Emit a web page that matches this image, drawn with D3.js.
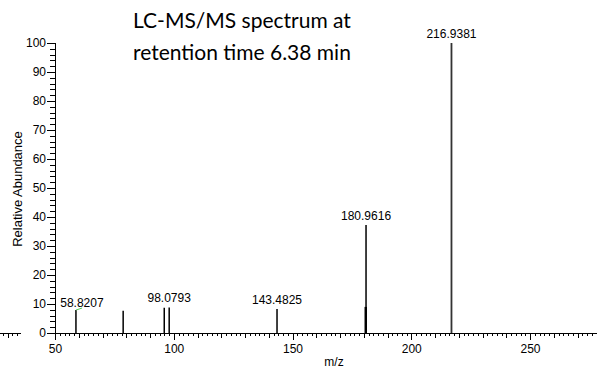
<!DOCTYPE html>
<html>
<head>
<meta charset="utf-8">
<script src="https://cdn.jsdelivr.net/npm/d3@7"></script>
<style>
  body { margin: 0; background: #fff; }
  svg { display: block; }
  .axis text { font-family: "Liberation Sans", Arial, sans-serif; font-size: 12px; fill: #000; }
  .axis path, .axis line { stroke: #000; stroke-width: 1; shape-rendering: crispEdges; }
</style>
</head>
<body>
<svg id="chart"></svg>
<script>
var width = 597, height = 369

// peaks
var peakMz    = [58.8207, 78.7, 96.0, 98.0793, 143.4825, 180.85, 180.9616, 216.9381]
var peakInt   = [7.9, 7.7, 8.7, 8.8, 8.3, 9.0, 37.2, 100]
var peakLabel = ["58.8207", "", "", "98.0793", "143.4825", "", "180.9616", "216.9381"]
var yTicks = [0, 10, 20, 30, 40, 50, 60, 70, 80, 90, 100]
var xTicks = [50, 100, 150, 200, 250]
var titleLines = ["LC-MS/MS spectrum at", "retention time 6.38 min"]

var svg = d3.select("#chart")
    .attr("width", width)
    .attr("height", height)

var x = d3.scaleLinear().domain([50, 250]).range([55, 530])
x.domain([x.invert(0), x.invert(width)]).range([0, width])
var y = d3.scaleLinear().domain([0, 100]).range([333, 43])

// x axis, broken where the "0" label of the y axis sits
// (clip rects are in the axis group's own coordinates)
var clip = svg.append("clipPath").attr("id", "xclip")
clip.append("rect").attr("x", 0).attr("y", -5).attr("width", 21).attr("height", 15)
clip.append("rect").attr("x", 54).attr("y", -5).attr("width", width).attr("height", 15)
clip.append("rect").attr("x", 0).attr("y", 10).attr("width", width).attr("height", 30)

var xMinor = d3.range(28, 278, 2)
var xg = svg.append("g").attr("class", "axis")
    .attr("transform", "translate(0," + y(0) + ")")
    .attr("clip-path", "url(#xclip)")
xg.append("g").call(d3.axisBottom(x).tickValues(xMinor).tickSize(3).tickFormat(""))
xg.append("g").call(d3.axisBottom(x).tickValues(d3.range(30, 280, 10)).tickSize(5).tickFormat(""))
xg.append("g").call(d3.axisBottom(x).tickValues(xTicks).tickSize(7).tickPadding(4).tickFormat(d3.format("d")))
xg.selectAll(".domain").attr("d", "M0,0.5H" + width)

// y axis
var yg = svg.append("g").attr("class", "axis")
    .attr("transform", "translate(55,0)")
yg.append("g").call(d3.axisLeft(y).tickValues(d3.range(0, 101, 2)).tickSize(5).tickFormat(""))
yg.append("g").call(d3.axisLeft(y).tickValues(yTicks).tickSize(8).tickPadding(1).tickFormat(d3.format("d")))

// peaks
var peaks = peakMz.map(function(d, i) { return {mz: d, v: peakInt[i], label: peakLabel[i]} })

svg.append("g").selectAll("line")
    .data(peaks)
    .enter()
    .append("line")
        .attr("x1", d => x(d.mz))
        .attr("x2", d => x(d.mz))
        .attr("y1", y(0))
        .attr("y2", d => y(d.v))
        .attr("stroke", d => d.v == 100 ? "#333" : "#000")
        .attr("stroke-width", d => d.mz == 180.85 ? 2.5 : (d.v == 100 ? 1.8 : 1.5))

svg.append("g").selectAll("text")
    .data(peaks.filter(d => d.label))
    .enter()
    .append("text")
        .attr("x", d => x(d.mz) + (d.mz < 60 ? 6 : 0))
        .attr("y", d => y(d.v) - (d.mz < 60 ? 3 : 5))
        .attr("text-anchor", "middle")
        .style("font-family", "'Liberation Sans', Arial, sans-serif")
        .style("font-size", "12px")
        .text(d => d.label)

// little green leader next to the first label
svg.append("line")
    .attr("x1", x(58.8207)).attr("y1", y(7.9))
    .attr("x2", x(58.8207) + 6).attr("y2", y(7.9) - 2)
    .attr("stroke", "#5c5").attr("stroke-width", 1)

// axis titles
svg.append("text")
    .attr("transform", "translate(22,189) rotate(-90)")
    .attr("text-anchor", "middle")
    .style("font-family", "'Liberation Sans', Arial, sans-serif")
    .style("font-size", "13px")
    .text("Relative Abundance")

svg.append("text")
    .attr("x", 334)
    .attr("y", 366)
    .attr("text-anchor", "middle")
    .style("font-family", "'Liberation Sans', Arial, sans-serif")
    .style("font-size", "12px")
    .text("m/z")

// title
svg.append("g").selectAll("text")
    .data(titleLines)
    .enter()
    .append("text")
        .attr("x", 133)
        .attr("y", (d, i) => 28 + i * 32)
        .style("font-family", "Lato, 'Open Sans', sans-serif")
        .style("font-size", "21px")
        .text(d => d)
</script>
</body>
</html>
